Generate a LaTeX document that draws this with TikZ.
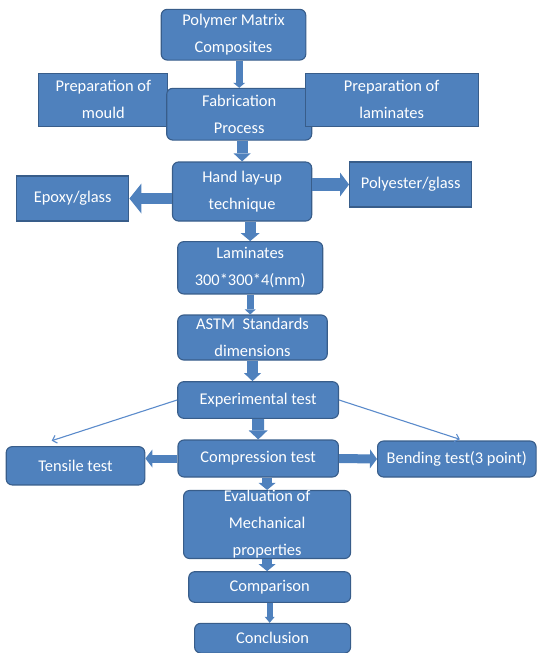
\documentclass[tikz,border=0pt]{standalone}
\usepackage{fontspec}
\setmainfont{Carlito}
\usetikzlibrary{arrows.meta,calc}

\definecolor{boxfill}{HTML}{4F81BD}
\definecolor{boxedge}{HTML}{385D8A}
\definecolor{spokeblue}{HTML}{5B8BCB}

\begin{document}
\begin{tikzpicture}[
  x=1pt,y=-1pt,
  every node/.style={align=center},
  flowbox/.style={rectangle,draw=boxedge,fill=boxfill,line width=1.1pt,rounded corners=6pt,text=white,inner xsep=2pt,inner ysep=0pt,font=\fontsize{16.4}{27}\selectfont},
  sidebox/.style={flowbox,sharp corners},
  fat/.style n args={3}{draw=boxfill,line width=#1,-{Triangle[width=#2,length=#3,line width=0pt]}},
  spoke/.style={draw=spokeblue,line width=1.1pt,-{Straight Barb[length=4pt,width=8pt]}}
]
\useasboundingbox (0,0) rectangle (540,653);
\node[flowbox,minimum width=144.6pt,minimum height=50.7pt] (pmc) at (233.5,34.7) {Polymer Matrix\\Composites};
\node[sidebox,minimum width=128.8pt,minimum height=52.7pt] (mould) at (103.3,99.7) {Preparation of\\mould};
\node[flowbox,minimum width=145pt,minimum height=51.7pt] (fab) at (239.2,114.2) {Fabrication\\Process};
\node[sidebox,minimum width=172.9pt,minimum height=52.7pt] (lamprep) at (391.6,99.7) {Preparation of\\laminates};
\node[flowbox,minimum width=139.2pt,minimum height=59pt] (hand) at (242.1,191.5) {Hand lay-up\\technique};
\node[sidebox,minimum width=112.3pt,minimum height=45pt] (epoxy) at (72.7,198.5) {Epoxy/glass};
\node[sidebox,minimum width=122.2pt,minimum height=45pt] (poly) at (410.7,184.5) {Polyester/glass};
\node[flowbox,minimum width=145pt,minimum height=52.3pt] (lam) at (250.2,267.8) {Laminates\\300*300*4(mm)};
\node[flowbox,minimum width=149.5pt,minimum height=45pt] (astm) at (252.5,337.5) {ASTM\ \ Standards\\dimensions};
\node[flowbox,minimum width=160.8pt,minimum height=36.6pt] (exp) at (258.1,400) {Experimental test};
\node[flowbox,minimum width=160.4pt,minimum height=37pt] (comp) at (258.2,458.5) {Compression test};
\node[flowbox,minimum width=138.6pt,minimum height=38.3pt] (tens) at (75.5,465.8) {Tensile test};
\node[flowbox,minimum width=158.5pt,minimum height=36pt] (bend) at (456.8,459) {Bending test(3 point)};
\node[flowbox,minimum width=167pt,minimum height=67.6pt] (eval) at (267.1,524.5) {Evaluation of\\Mechanical\\properties};
\node[flowbox,minimum width=161.9pt,minimum height=30.6pt] (cmpn) at (269.7,587) {Comparison};
\node[flowbox,minimum width=156pt,minimum height=29.7pt] (concl) at (272.6,638.2) {Conclusion};
\coordinate (tensend) at (51.7,440.7);
\coordinate (bendend) at (459.8,439.3);

\draw[fat={7pt}{12pt}{5pt}] (pmc.south -| fab.north) -- (fab.north);
\draw[fat={11pt}{17pt}{8pt}] (fab.south -| hand.north) -- (hand.north);
\draw[fat={11pt}{19pt}{8pt}] (lam.north |- hand.south) -- (lam.north);
\draw[fat={7pt}{11pt}{5pt}] (lam.south) -- (lam.south |- astm.north);
\draw[fat={11pt}{17pt}{8pt}] (astm.south) -- (astm.south |- exp.north);
\draw[fat={12pt}{19pt}{9pt}] (exp.south) -- (comp.north);
\draw[fat={10pt}{17pt}{7pt}] (comp.south -| eval.north) -- (eval.north);
\draw[fat={10pt}{17pt}{7pt}] (eval.south) -- (eval.south |- cmpn.north);
\draw[fat={6pt}{10pt}{6pt}] (cmpn.south) -- (cmpn.south |- concl.north);
\draw[fat={11pt}{30pt}{12pt}] (hand.west |- epoxy) -- (epoxy.east);
\draw[fat={13pt}{24pt}{9pt}] (hand.east |- poly) -- (poly.west);
\draw[fat={8pt}{18pt}{7pt}] (comp.west) -- (comp.west -| tens.east);
\draw[fat={9pt}{19pt}{7pt}] (comp.east) -- (bend.west);
\draw[spoke] (exp.west) -- (tensend);
\draw[spoke] (exp.east) -- (bendend);
\end{tikzpicture}
\end{document}
